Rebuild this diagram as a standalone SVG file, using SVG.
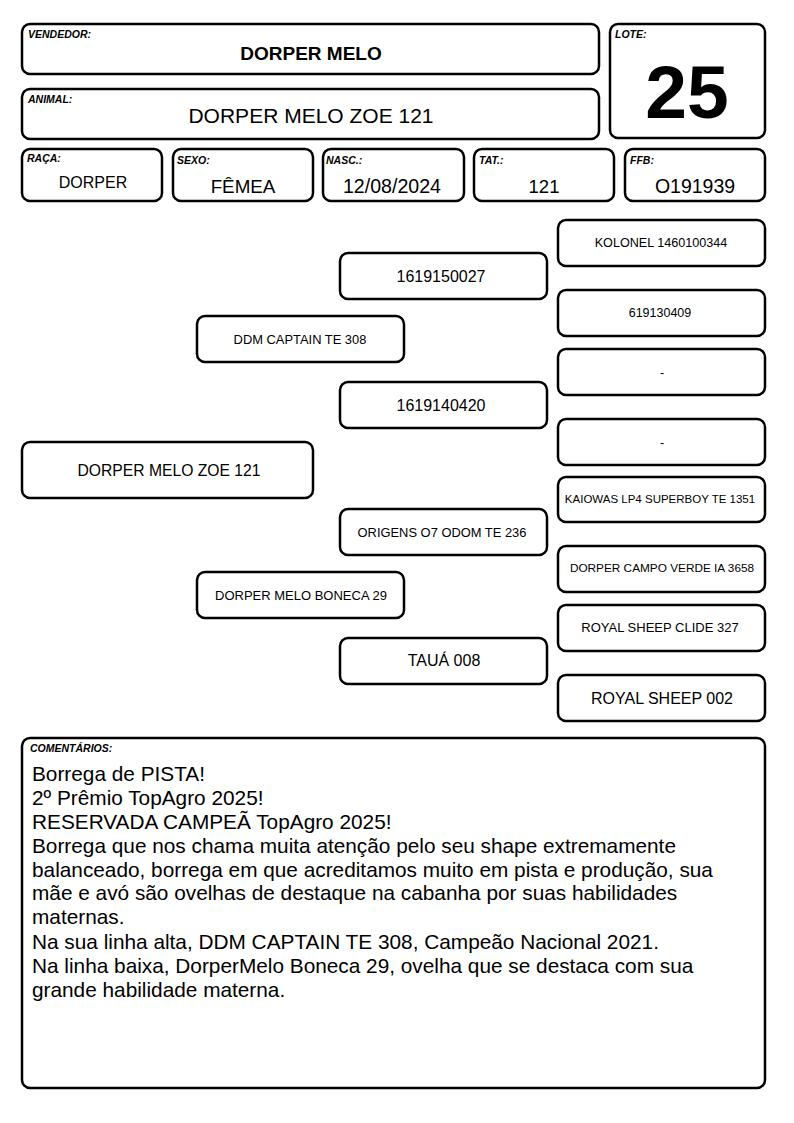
<svg xmlns="http://www.w3.org/2000/svg" width="794" height="1123" viewBox="0 0 794 1123">
<style>
.b{fill:#fff;stroke:#000;stroke-width:2.5}
.lb{font-family:"Liberation Sans",Arial,sans-serif;font-size:10.5px;font-style:italic;font-weight:bold;fill:#000}
.t{font-family:"Liberation Sans",Arial,sans-serif;fill:#000;text-anchor:middle}
.c{font-family:"Liberation Sans",Arial,sans-serif;font-size:20.8px;fill:#000}
</style>
<rect width="794" height="1123" fill="#fff"/>
<g id="vendedor"><rect class="b" x="22" y="24" width="577" height="50" rx="8"/><text class="lb" x="28" y="38">VENDEDOR:</text><text class="t" x="311" y="60" font-size="19" font-weight="bold">DORPER MELO</text></g>
<g id="animal"><rect class="b" x="22" y="89" width="577" height="50" rx="8"/><text class="lb" x="28" y="103">ANIMAL:</text><text class="t" x="311" y="123" font-size="21">DORPER MELO ZOE 121</text></g>
<g id="lote"><rect class="b" x="610" y="24" width="155" height="114" rx="8"/><text class="lb" x="615" y="38">LOTE:</text><text class="t" x="687" y="118" font-size="75" font-weight="bold">25</text></g>
<g id="raca"><rect class="b" x="22" y="149" width="140" height="52" rx="8"/><text class="lb" x="27" y="162">RAÇA:</text><text class="t" x="93" y="188" font-size="16">DORPER</text></g>
<g id="sexo"><rect class="b" x="173" y="149" width="140" height="52" rx="8"/><text class="lb" x="177" y="164">SEXO:</text><text class="t" x="243" y="193" font-size="18.8">FÊMEA</text></g>
<g id="nasc"><rect class="b" x="323" y="149" width="141" height="52" rx="8"/><text class="lb" x="326" y="164">NASC.:</text><text class="t" x="392" y="193" font-size="19.6">12/08/2024</text></g>
<g id="tat"><rect class="b" x="474" y="149" width="140" height="52" rx="8"/><text class="lb" x="479" y="164">TAT.:</text><text class="t" x="544" y="193" font-size="18.5">121</text></g>
<g id="ffb"><rect class="b" x="625" y="149" width="140" height="52" rx="8"/><text class="lb" x="630" y="164">FFB:</text><text class="t" x="695" y="193" font-size="19.5">O191939</text></g>
<g id="p0"><rect class="b" x="22" y="442" width="291" height="56" rx="8"/><text class="t" x="169" y="476" font-size="15.7">DORPER MELO ZOE 121</text></g>
<g id="p1"><rect class="b" x="197" y="316" width="207" height="46" rx="8"/><text class="t" x="300" y="344" font-size="12.9">DDM CAPTAIN TE 308</text></g>
<g id="p2"><rect class="b" x="197" y="572" width="207" height="46" rx="8"/><text class="t" x="301" y="600" font-size="13">DORPER MELO BONECA 29</text></g>
<g id="p3"><rect class="b" x="340" y="253" width="207" height="46" rx="8"/><text class="t" x="441" y="282" font-size="16">1619150027</text></g>
<g id="p4"><rect class="b" x="340" y="382" width="207" height="46" rx="8"/><text class="t" x="441" y="411" font-size="16">1619140420</text></g>
<g id="p5"><rect class="b" x="340" y="509" width="207" height="46" rx="8"/><text class="t" x="442" y="537" font-size="12.9">ORIGENS O7 ODOM TE 236</text></g>
<g id="p6"><rect class="b" x="340" y="638" width="207" height="46" rx="8"/><text class="t" x="444" y="666" font-size="16">TAUÁ 008</text></g>
<g id="p7"><rect class="b" x="558" y="220" width="207" height="46" rx="8"/><text class="t" x="661" y="247" font-size="12.6">KOLONEL 1460100344</text></g>
<g id="p8"><rect class="b" x="558" y="290" width="207" height="46" rx="8"/><text class="t" x="660" y="317" font-size="12.5">619130409</text></g>
<g id="p9"><rect class="b" x="558" y="349" width="207" height="46" rx="8"/><text class="t" x="662" y="377" font-size="12.5">-</text></g>
<g id="p10"><rect class="b" x="558" y="419" width="207" height="46" rx="8"/><text class="t" x="662" y="447" font-size="12.5">-</text></g>
<g id="p11"><rect class="b" x="558" y="477" width="207" height="45" rx="8"/><text class="t" x="660" y="503" font-size="11.5">KAIOWAS LP4 SUPERBOY TE 1351</text></g>
<g id="p12"><rect class="b" x="558" y="546" width="207" height="46" rx="8"/><text class="t" x="662" y="572" font-size="11.8">DORPER CAMPO VERDE IA 3658</text></g>
<g id="p13"><rect class="b" x="558" y="605" width="207" height="46" rx="8"/><text class="t" x="660" y="632" font-size="13">ROYAL SHEEP CLIDE 327</text></g>
<g id="p14"><rect class="b" x="558" y="675" width="207" height="46" rx="8"/><text class="t" x="662" y="704" font-size="16">ROYAL SHEEP 002</text></g>
<g id="connectors"></g>
<g id="comentarios"><rect class="b" x="22" y="738" width="743" height="350" rx="8"/><text class="lb" x="30" y="752" font-size="11">COMENTÁRIOS:</text>
<text class="c" x="32" y="781">Borrega de PISTA!</text>
<text class="c" x="32" y="805">2º Prêmio TopAgro 2025!</text>
<text class="c" x="32" y="829">RESERVADA CAMPEÃ TopAgro 2025!</text>
<text class="c" x="32" y="853">Borrega que nos chama muita atenção pelo seu shape extremamente</text>
<text class="c" x="32" y="877">balanceado, borrega em que acreditamos muito em pista e produção, sua</text>
<text class="c" x="32" y="900">mãe e avó são ovelhas de destaque na cabanha por suas habilidades</text>
<text class="c" x="32" y="924">maternas.</text>
<text class="c" x="32" y="949">Na sua linha alta, DDM CAPTAIN TE 308, Campeão Nacional 2021.</text>
<text class="c" x="32" y="973">Na linha baixa, DorperMelo Boneca 29, ovelha que se destaca com sua</text>
<text class="c" x="32" y="997">grande habilidade materna.</text>
</g>
</svg>
